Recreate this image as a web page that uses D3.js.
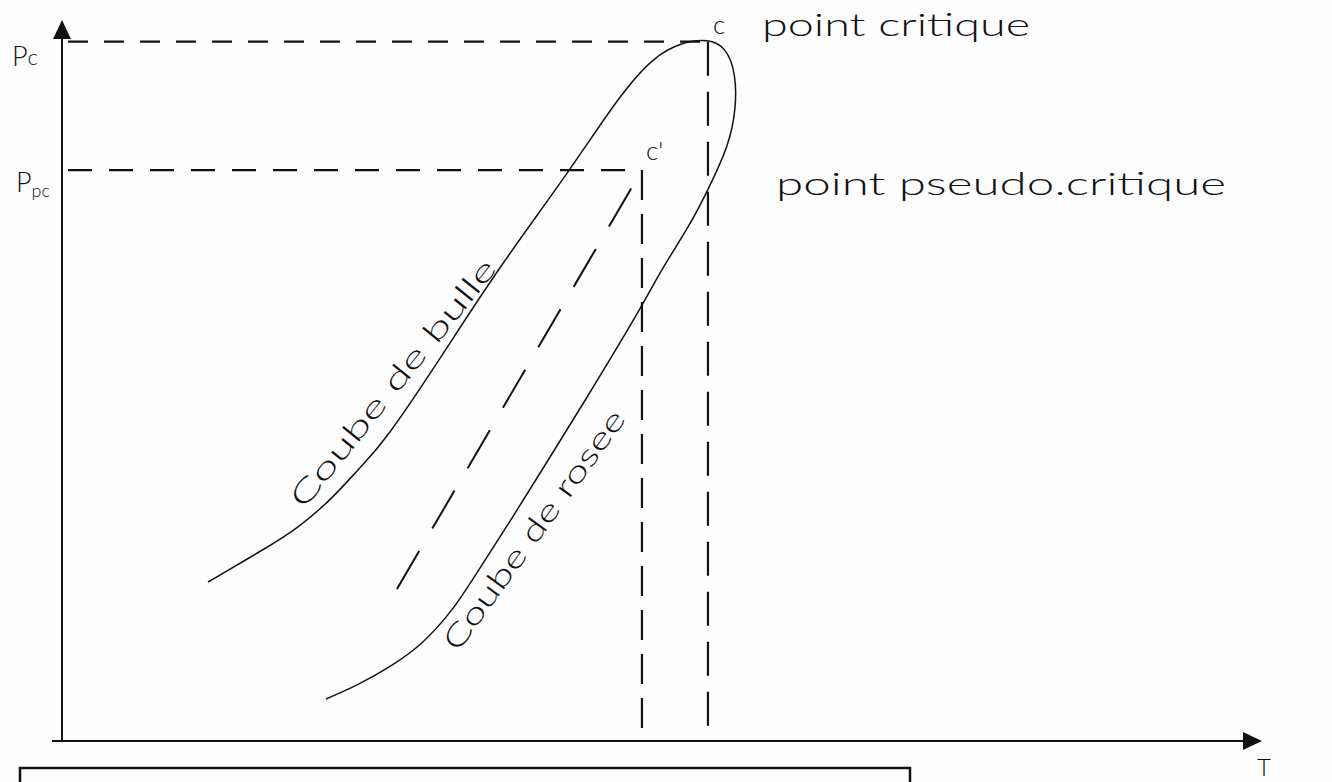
<!DOCTYPE html>
<html>
<head>
<meta charset="utf-8">
<script src="https://cdn.jsdelivr.net/npm/d3@7"></script>
<style>
  html, body { margin: 0; padding: 0; background: #fdfdfd; }
  svg { display: block; }
  text { font-family: "Lato", "DejaVu Sans", sans-serif; fill: #111; font-weight: 300; }
</style>
</head>
<body>
<svg id="chart" width="1332" height="782"></svg>
<script>
// ---- data (arbitrary T / P units) ----
const bubbleT = [12.19, 16.61, 19.62, 22.62, 24.96, 26.79, 31.55, 36.31, 42.32, 46.49, 49.42, 51.84];
const bubbleP = [22.05, 26.35, 29.40, 33.70, 38.14, 41.19, 52.98, 65.33, 78.92, 89.46, 95.01, 96.95];
const dewT = [53.92, 55.43, 56.26, 56.26, 55.68, 53.92, 52.42, 50.00, 48.25, 43.49, 40.48, 37.48, 34.56, 32.72, 30.05, 27.38, 24.71, 22.04];
const dewP = [97.36, 96.26, 92.51, 87.66, 82.66, 76.42, 71.57, 65.33, 59.78, 46.74, 38.70, 30.65, 23.16, 18.31, 13.31, 10.26, 7.77, 5.83];
const pseudoT = [27.96, 48.41];
const pseudoP = [21.08, 79.19];
const critT = 53.92, critP = 97.0;
const pseudoCritT = 48.41, pseudoCritP = 79.19;
const yLabels = ["P", "P"];
const ySubs = ["c", "pc"];
const pointLabels = ["c", "c'"];
const pointNames = ["point critique", "point pseudo.critique"];
const curveNames = ["Coube de bulle", "Coube de rosee"];
const axisName = "T";

// ---- layout ----
const svg = d3.select("#chart");
const x = d3.scaleLinear().domain([0, 100]).range([62, 1260]);
const y = d3.scaleLinear().domain([0, 100]).range([741, 20]);
const ink = "#111";

// axes
svg.append("line").attr("x1", 52).attr("x2", 1250).attr("y1", y(0)).attr("y2", y(0))
  .attr("stroke", ink).attr("stroke-width", 2.2);
svg.append("line").attr("x1", x(0)).attr("x2", x(0)).attr("y1", y(0)).attr("y2", 34)
  .attr("stroke", ink).attr("stroke-width", 2);
svg.append("path").attr("d", `M${x(0)},${y(100)} L${x(0) - 9},${y(100) + 19} L${x(0) + 9},${y(100) + 19} Z`).attr("fill", ink);
svg.append("path").attr("d", `M1262,${y(0)} L1243,${y(0) - 9} L1243,${y(0) + 9} Z`).attr("fill", ink);

// axis labels
const yl = svg.append("g");
[[12, 66], [16, 192]].forEach((d, i) => {
  const t = yl.append("text").attr("x", d[0]).attr("y", d[1]).attr("font-size", 27);
  t.append("tspan").text(yLabels[i]);
  t.append("tspan").attr("font-size", i === 0 ? 22 : 18).attr("dy", i === 0 ? -1 : 5).text(ySubs[i]);
});
svg.append("text").attr("x", 1264).attr("y", 776).attr("text-anchor", "middle")
  .attr("font-size", 24).text(axisName);

// dashed reference lines
svg.append("line").attr("x1", x(0) + 6).attr("x2", x(critT)).attr("y1", y(critP)).attr("y2", y(critP))
  .attr("stroke", ink).attr("stroke-width", 2.2).attr("stroke-dasharray", "20,16");
svg.append("line").attr("x1", x(0) + 6).attr("x2", x(pseudoCritT)).attr("y1", y(pseudoCritP)).attr("y2", y(pseudoCritP))
  .attr("stroke", ink).attr("stroke-width", 2.2).attr("stroke-dasharray", "24,17");
svg.append("line").attr("x1", x(critT)).attr("x2", x(critT)).attr("y1", y(critP)).attr("y2", y(0))
  .attr("stroke", ink).attr("stroke-width", 2.2).attr("stroke-dasharray", "34,16");
svg.append("line").attr("x1", x(pseudoCritT)).attr("x2", x(pseudoCritT)).attr("y1", y(pseudoCritP)).attr("y2", y(0))
  .attr("stroke", ink).attr("stroke-width", 2.2).attr("stroke-dasharray", "30,14");

// phase envelope: bubble curve joined to dew curve at the critical point
const line = d3.line().x(d => x(d[0])).y(d => y(d[1])).curve(d3.curveBasis);
const envelope = bubbleT.map((t, i) => [t, bubbleP[i]]).concat(dewT.map((t, i) => [t, dewP[i]]));
svg.append("path").attr("d", line(envelope)).attr("fill", "none").attr("stroke", ink).attr("stroke-width", 1.5);

// pseudo-critical dashed line
const pseudo = pseudoT.map((t, i) => [t, pseudoP[i]]);
svg.append("path").attr("d", d3.line().x(d => x(d[0])).y(d => y(d[1]))(pseudo))
  .attr("fill", "none").attr("stroke", ink).attr("stroke-width", 2).attr("stroke-dasharray", "44,26");

// point labels
svg.append("text").attr("x", x(critT) + 5).attr("y", y(critP) - 8).attr("font-size", 26).text(pointLabels[0]);
svg.append("text").attr("x", x(pseudoCritT) + 4).attr("y", y(pseudoCritP) - 10).attr("font-size", 26).text(pointLabels[1]);
svg.append("text").attr("x", 762).attr("y", 36).attr("font-size", 32)
  .attr("textLength", 268).attr("lengthAdjust", "spacingAndGlyphs").text(pointNames[0]);
svg.append("text").attr("x", 776).attr("y", 195).attr("font-size", 32)
  .attr("textLength", 450).attr("lengthAdjust", "spacingAndGlyphs").text(pointNames[1]);

// curve labels (rotated along the curves)
function along(name, x0, y0, x1, y1, fs) {
  const ang = Math.atan2(y1 - y0, x1 - x0) * 180 / Math.PI;
  const len = Math.hypot(x1 - x0, y1 - y0);
  svg.append("text").attr("transform", `translate(${x0},${y0}) rotate(${ang})`)
    .attr("font-size", fs).attr("textLength", len).attr("lengthAdjust", "spacingAndGlyphs").text(name);
}
along(curveNames[0], 304, 510, 498, 269, 30);
along(curveNames[1], 458, 653, 627, 419, 30);

// bottom box
svg.append("rect").attr("x", 20).attr("y", 768).attr("width", 890).attr("height", 40)
  .attr("fill", "none").attr("stroke", ink).attr("stroke-width", 2.5);
</script>
</body>
</html>
